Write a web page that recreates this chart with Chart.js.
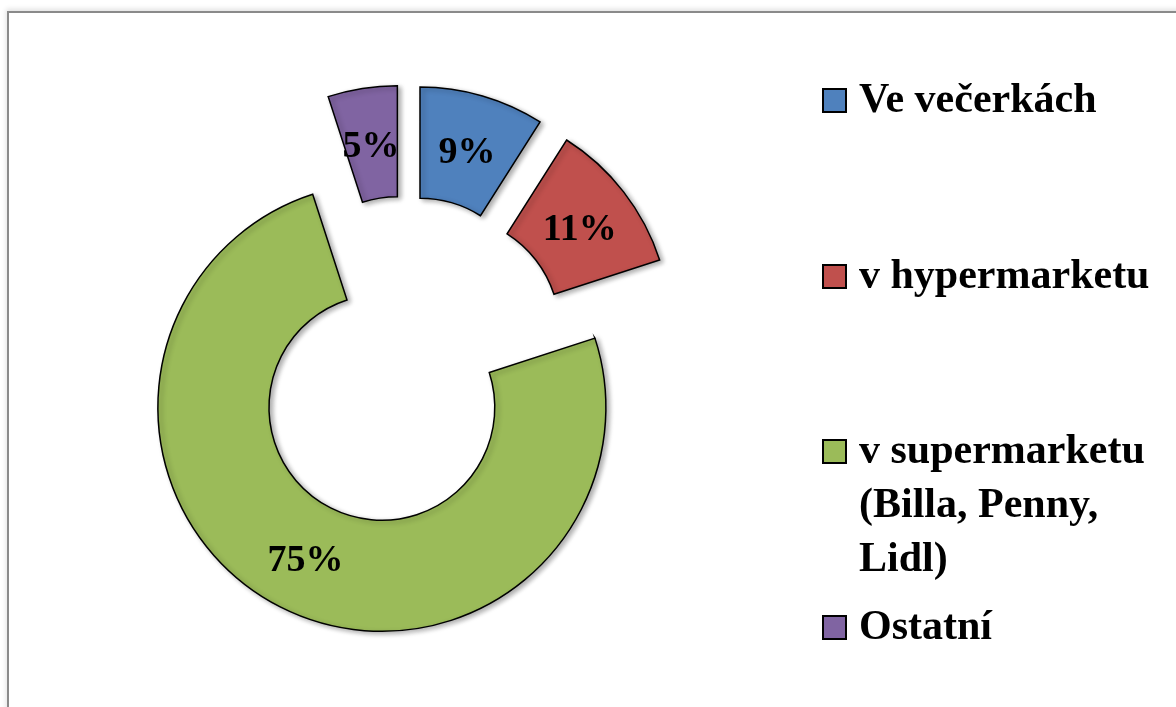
<!DOCTYPE html>
<html>
<head>
<meta charset="utf-8">
<script src="https://cdn.jsdelivr.net/npm/chart.js@4.4.0/dist/chart.umd.min.js"></script>
<style>
html, body { margin: 0; padding: 0; background: #fff; }
body { width: 1176px; height: 707px; position: relative; overflow: hidden; font-family: "Liberation Serif", serif; }
#frame { position: absolute; left: 7px; top: 11px; width: 1300px; height: 800px; border-left: 2px solid #8a8a8a; border-top: 2px solid #8a8a8a; box-shadow: -1px -2px 5px rgba(0,0,0,0.12); }
#pie { position: absolute; left: 0; top: 0; }
.item { position: absolute; left: 859px; width: 300px; font-weight: bold; font-size: 42px; line-height: 54px; color: #000; }
.item .box { position: absolute; left: -37px; top: 17px; width: 21px; height: 21px; border: 2px solid #000; }
</style>
</head>
<body>
<div id="frame"></div>
<canvas id="pie" width="1176" height="707"></canvas>
<div id="legend"></div>
<script>
// data
let categories = ['Ve večerkách', 'v hypermarketu', 'v supermarketu (Billa, Penny, Lidl)', 'Ostatní'];
let shares = [9, 11, 75, 5];
let sliceColors = ['#4f81bd', '#c0504d', '#9bbb59', '#8064a2'];

// every slice pulled out from the middle (excel "point explosion")
let explode = {
    id: 'explode',
    afterDatasetUpdate: function(chart, args) {
        chart.getDatasetMeta(args.index).data.forEach(function(arc) {
            let mid = (arc.startAngle + arc.endAngle) / 2;
            arc.x += Math.cos(mid) * 52;
            arc.y += Math.sin(mid) * 52;
        });
    }
};

// soft shadow under the slices, then the % labels on top
let shadowAndLabels = {
    id: 'shadowAndLabels',
    beforeDatasetsDraw: function(chart) {
        let ctx = chart.ctx;
        ctx.save();
        ctx.shadowColor = 'rgba(0,0,0,0.32)';
        ctx.shadowBlur = 5;
        ctx.shadowOffsetX = 3;
        ctx.shadowOffsetY = 2;
    },
    afterDatasetsDraw: function(chart) {
        let ctx = chart.ctx;
        ctx.restore();
        let data = chart.data.datasets[0].data;
        let total = data.reduce(function(a, b) { return a + b; }, 0);
        ctx.save();
        ctx.font = 'bold 38px "Liberation Serif"';
        ctx.fillStyle = '#000';
        ctx.textAlign = 'center';
        ctx.textBaseline = 'middle';
        chart.getDatasetMeta(0).data.forEach(function(arc, i) {
            let p = arc.getCenterPoint();
            ctx.fillText(Math.round(data[i] / total * 100) + '%', p.x, p.y + 4);
        });
        ctx.restore();
    }
};

new Chart(document.getElementById('pie'), {
    type: 'doughnut',
    data: {
        labels: categories,
        datasets: [{
            data: shares,
            backgroundColor: sliceColors,
            borderColor: '#000',
            borderWidth: 1.5,
            borderJoinStyle: 'miter'
        }]
    },
    options: {
        responsive: false,
        animation: false,
        events: [],
        radius: 224,
        cutout: '50.4%',
        layout: { padding: { left: 180, right: 545, top: 137, bottom: 122 } },
        plugins: {
            legend: { display: false },
            tooltip: { enabled: false }
        }
    },
    plugins: [explode, shadowAndLabels]
});

// legend on the right, built from the same arrays
let tops = [71, 247, 422, 598];
let legend = document.getElementById('legend');
categories.forEach(function(name, i) {
    legend.insertAdjacentHTML('beforeend',
        '<div class="item" style="top:' + tops[i] + 'px"><span class="box" style="background:' + sliceColors[i] + '"></span>' + name + '</div>');
});
</script>
</body>
</html>
